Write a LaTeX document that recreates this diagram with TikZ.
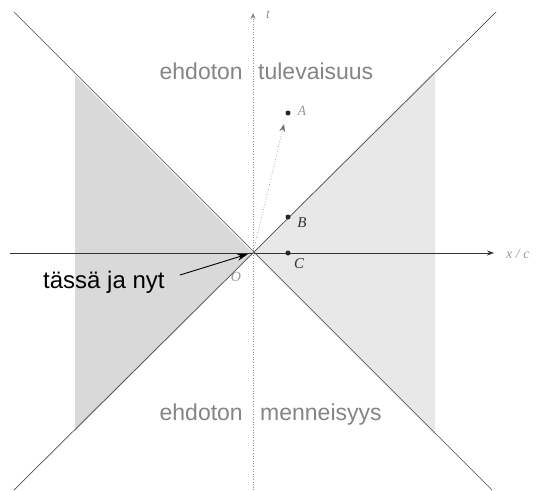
\documentclass[tikz,border=0pt]{standalone}
\usepackage{fontspec}
\setmainfont{Liberation Sans}
\newfontfamily\lserif{Liberation Serif}
\usetikzlibrary{arrows.meta}
\begin{document}
\begin{tikzpicture}[x=1pt,y=-1pt,
  cone/.style={draw=black!70,line width=0.7pt},
  haxis/.style={draw=black!80,line width=0.8pt},
  vaxis/.style={draw=black!45,line width=0.6pt,dotted},
  dot/.style={circle,fill=black!85,inner sep=0pt,minimum size=5pt},
  ptlabel/.style={font=\lserif\itshape\fontsize{15}{15}\selectfont,text=black!80,inner sep=0pt},
  faint/.style={font=\lserif\itshape\fontsize{14}{14}\selectfont,text=black!40,inner sep=0pt},
  region/.style={font=\fontsize{23}{23}\selectfont,text=black!48,inner sep=0pt},
  here/.style={font=\fontsize{24}{24}\selectfont,text=black,inner sep=0pt},
  shade/.style={fill=black!15}]
\useasboundingbox (0,0) rectangle (546,490);
\fill[white] (0,0) rectangle (546,490);
\coordinate (O) at (253,253);
% shaded spacelike wedges
\fill[shade] (O) -- (75,75) -- (75,431) -- cycle;
\fill[shade,fill=black!9] (O) -- (435,71) -- (435,435) -- cycle;
% light cone lines
\coordinate (ul) at (14,12);
\coordinate (lr) at (492,490);
\coordinate (ur) at (496,12);
\coordinate (ll) at (14,490);
\draw[cone] (ul) -- (lr);
\draw[cone] (ur) -- (ll);
% axes
\coordinate (xl) at (10,253);
\coordinate (xr) at (494,253);
\coordinate (yb) at (253,490);
\coordinate (yt) at (253,13);
\draw[haxis,-{Stealth[length=7pt,width=5pt]}] (xl) -- (xr);
\draw[vaxis,-{Stealth[length=6pt,width=5pt,fill=black!60]}] (yb) -- (yt);
% events
\node[dot] (A) at (288,113) {};
\node[dot] (B) at (288,217) {};
\node[dot] (C) at (288,253) {};
\coordinate (Ah) at (284,124);
\draw[black!50,dotted,line width=0.6pt,-{Stealth[length=8pt,width=6pt,fill=black!60]}] (O) -- (Ah);
% labels
\node[faint] (Al) at (302,111) {A};
\node[ptlabel] (Bl) at (302,223) {B};
\node[ptlabel] (Cl) at (299,264) {C};
\node[faint] (Ol) at (236,277) {O};
\node[faint] (tl) at (268,15) {t};
\node[faint,anchor=west] (xcl) at (506,254) {x / c};
% region texts
\node[region,anchor=base east] (f1) at (243,79) {ehdoton};
\node[region,anchor=base west] (f2) at (258,79) {tulevaisuus};
\node[region,anchor=base east] (p1) at (243,420) {ehdoton};
\node[region,anchor=base west] (p2) at (260,420) {menneisyys};
% here and now
\node[here,anchor=base west] (hn) at (43,288) {tässä ja nyt};
\coordinate (hs) at (180,275);
\coordinate (ht) at (248,254);
\draw[black,line width=0.9pt,-{Stealth[length=11pt,width=7pt]}] (hs) -- (ht);
\end{tikzpicture}
\end{document}
